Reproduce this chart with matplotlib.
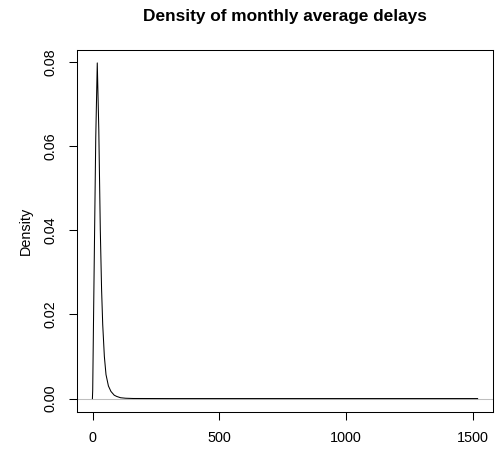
import matplotlib
matplotlib.use("Agg")
import matplotlib.pyplot as plt

# Density curve points (delay in minutes, density)
delay = [-1.2, 0, 3, 7.5, 12, 18, 24, 30, 35, 39.5, 46, 52.5, 62, 72, 85, 95, 110, 130, 160,
         300, 600, 1000, 1520]
density = [0.0, 0.002, 0.0176, 0.040, 0.062, 0.0798, 0.064, 0.040, 0.026, 0.0176, 0.010,
           0.0057, 0.0030, 0.0017, 0.0008, 0.0005, 0.0002, 0.00008, 0.00002,
           0.0, 0.0, 0.0, 0.0]
x_ticks = [0, 500, 1000, 1500]
y_ticks = [0.00, 0.02, 0.04, 0.06, 0.08]
y_tick_labels = ["0.00", "0.02", "0.04", "0.06", "0.08"]
title = "Density of monthly average delays"
ylabel = "Density"

plt.rcParams['font.family'] = ['Liberation Sans', 'DejaVu Sans']

W, H = 495, 449
L, R, T, B = 77, 493, 49.5, 412
fig = plt.figure(figsize=(W / 100, H / 100), dpi=100)
ax = fig.add_axes([L / W, 1 - B / H, (R - L) / W, (B - T) / H])

ax.axhline(0, color="#bebebe", lw=0.75, zorder=1)
ax.plot(delay, density, color="black", lw=0.75, zorder=2)

xmin, xmax = min(delay), max(delay)
dx = (xmax - xmin) * 0.04
ax.set_xlim(xmin - dx, xmax + dx)
ymax = max(density)
dy = ymax * 0.04
ax.set_ylim(-dy, ymax + dy)

ax.set_xticks(x_ticks)
ax.set_xticklabels([str(t) for t in x_ticks])
ax.set_yticks(y_ticks)
ax.set_yticklabels(y_tick_labels, rotation=90, va="center")
ax.tick_params(axis="both", direction="out", length=5.8, width=0.75, labelsize=10.4,
               pad=8, colors="black")
for s in ax.spines.values():
    s.set_linewidth(0.75)

fig.text(25.5 / W, 1 - (T + B) / 2 / H, ylabel, rotation=90, ha="center", va="center",
         fontsize=10.4)
fig.text((L + R) / 2 / W, 1 - 21.5 / H, title, ha="center", va="baseline",
         fontsize=12.4, fontweight="bold")

fig.savefig("out.png", dpi=100)
